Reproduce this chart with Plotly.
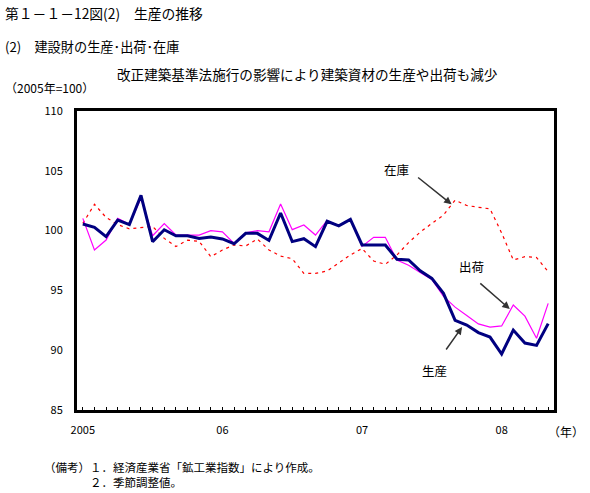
import plotly.graph_objects as go

# month index 0 = 2005-01 ... 40 = 2008-05
months = list(range(41))

production = [100.55, 100.27, 99.5, 100.87, 100.5, 102.95, 99.07, 100.07, 99.57, 99.57,
              99.35, 99.46, 99.3, 98.9, 99.77, 99.77, 99.18, 101.47, 99.08, 99.32,
              98.66, 100.78, 100.4, 100.94, 98.8, 98.8, 98.8, 97.61, 97.54, 96.64,
              96.0, 94.75, 92.5, 92.1, 91.47, 91.1, 89.68, 91.68, 90.6, 90.4, 92.22]

shipments = [101.02, 98.38, 99.21, 101.02, 100.52, 102.7, 99.57, 100.58, 99.63, 99.63,
             99.63, 99.99, 99.9, 98.93, 99.82, 99.99, 99.9, 102.22, 100.08, 100.47,
             99.63, 100.85, 100.39, 100.9, 98.68, 99.44, 99.44, 97.53, 97.1, 96.5,
             95.92, 94.5, 93.6, 92.9, 92.2, 91.93, 92.03, 93.78, 92.85, 91.0, 93.92]

inventory = [100.6, 102.2, 101.1, 100.5, 100.15, 100.25, 100.35, 99.35, 98.67, 99.2,
             99.1, 97.82, 98.38, 98.8, 98.71, 99.3, 98.38, 97.87, 97.65, 96.42,
             96.42, 96.62, 97.26, 97.96, 98.5, 97.46, 97.18, 97.96, 99.0, 99.87,
             100.6, 101.3, 102.55, 102.1, 101.95, 101.82, 99.8, 97.54, 97.82, 97.75, 96.56]

year_tickvals = [0, 12, 24, 36]
year_ticktext = ["2005", "06", "07", "08"]
y_tickvals = [85, 90, 95, 100, 105, 110]

JP = "Noto Sans CJK JP"

W, H = 590, 493
PL, PR, PT, PB = 77, 554, 111, 410  # plot area in window pixels

fig = go.Figure()
fig.add_trace(go.Scatter(x=months, y=inventory, mode="lines", name="在庫",
                         line=dict(color="#FF0000", width=1.2, dash="3px,4px")))
fig.add_trace(go.Scatter(x=months, y=shipments, mode="lines", name="出荷",
                         line=dict(color="#FF00FF", width=1.2)))
fig.add_trace(go.Scatter(x=months, y=production, mode="lines", name="生産",
                         line=dict(color="#000080", width=3)))

fig.update_layout(
    width=W, height=H,
    margin=dict(l=PL, r=W - PR, t=PT, b=H - PB, pad=0),
    paper_bgcolor="white", plot_bgcolor="white",
    showlegend=False,
    font=dict(family=JP, size=11, color="black"),
)

fig.update_xaxes(
    range=[-0.5, 40.5], showgrid=False, zeroline=False,
    showline=True, linewidth=3, linecolor="black", mirror=True,
    tickmode="array", tickvals=year_tickvals, ticktext=year_ticktext,
    ticks="inside", ticklen=3, tickcolor="black", tickwidth=1,
    minor=dict(dtick=1, tick0=0, ticks="inside", ticklen=3, tickcolor="black", tickwidth=1),
    tickfont=dict(family=JP, size=11), ticklabelstandoff=8,
)
fig.update_yaxes(
    range=[85, 110], showgrid=False, zeroline=False,
    showline=True, linewidth=3, linecolor="black", mirror=True,
    tickmode="array", tickvals=y_tickvals, ticks="",
    tickfont=dict(family=JP, size=11), ticklabelstandoff=9,
)

def px2paper(px, py):
    return (px - PL) / (PR - PL), (PB - py) / (PB - PT)

texts = [
    ("第１－１－12図(2)　生産の推移", 3, 13, "left", 13.8),
    ("(2)　建設財の生産･出荷･在庫", 3, 47, "left", 13.2),
    ("改正建築基準法施行の影響により建築資材の生産や出荷も減少", 307, 74, "center", 13.6),
    ("（2005年=100）", 3, 87, "left", 12),
    ("（年）", 566, 431, "center", 12),
    ("（備考）１．経済産業省「鉱工業指数」により作成。<br>　　　　２．季節調整値。", 42, 474, "left", 11.5),
]
for t, px, py, anchor, size in texts:
    xp, yp = px2paper(px, py)
    fig.add_annotation(text=t, x=xp, y=yp, xref="paper", yref="paper",
                       xanchor=anchor, yanchor="middle", align="left", showarrow=False,
                       font=dict(family=JP, size=size, color="black"))

# series labels
labels = [("在庫", 27.0, 105.07), ("出荷", 33.45, 97.04), ("生産", 30.27, 88.34)]
for t, xv, yv in labels:
    fig.add_annotation(text=t, x=xv, y=yv, showarrow=False,
                       font=dict(family=JP, size=12.5, color="black"))

# arrows (tip in data coords, tail offset in pixels)
arrows = [(31.7, 102.2, -35, -28), (36.7, 93.44, -31, -27), (32.6, 91.94, -17, 24)]
for xv, yv, ax, ay in arrows:
    fig.add_annotation(text="", x=xv, y=yv, ax=ax, ay=ay, showarrow=True,
                       arrowhead=2, arrowsize=1, arrowwidth=1.5, arrowcolor="#333333")

fig.write_html(
    "out.html",
    config={"displayModeBar": False},
    post_script="document.body.style.margin='0';document.body.style.overflow='hidden';",
)
